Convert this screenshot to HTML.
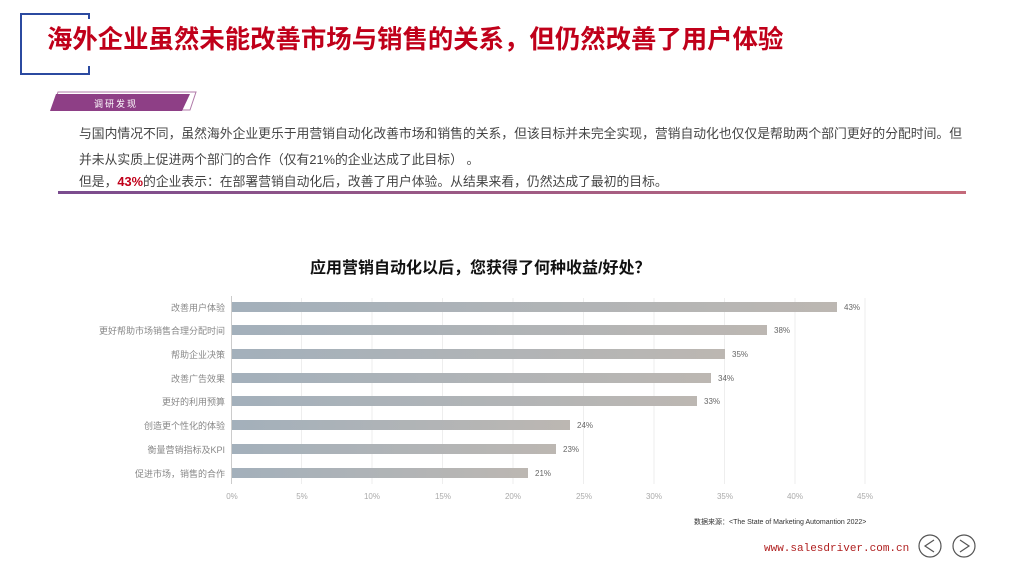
<!DOCTYPE html>
<html><head><meta charset="utf-8"><style>
body{margin:0;width:1024px;height:576px;background:#fff;position:relative;overflow:hidden;font-family:"Liberation Sans","Noto Sans CJK SC",sans-serif}
.a{position:absolute;white-space:nowrap}
.t{font-size:12.8px;color:#444;line-height:18px;left:79px}
</style></head><body>
<div class="a" style="left:20px;top:13px;width:68px;height:58px;border:2px solid #2b4aa0;border-right:none"></div>
<div class="a" style="left:88px;top:13px;width:2px;height:6px;background:#2b4aa0"></div>
<div class="a" style="left:88px;top:66px;width:2px;height:7px;background:#2b4aa0"></div>
<div class="a" style="left:47px;top:22px;font-size:25.4px;font-weight:bold;color:#c0001a;line-height:36px">海外企业虽然未能改善市场与销售的关系，但仍然改善了用户体验</div>
<svg class="a" style="left:50px;top:88px" width="150" height="26"><polygon points="8,4 146,4 140,22 2,22" fill="none" stroke="#b07aa8" stroke-width="1"/><polygon points="6,6 140,6 132,23 0,23" fill="#8e3f86"/><text x="44" y="19" font-size="9" fill="#fff" letter-spacing="2" font-family="Noto Sans CJK SC">调研发现</text></svg>
<div class="a t" style="top:125px">与国内情况不同，虽然海外企业更乐于用营销自动化改善市场和销售的关系，但该目标并未完全实现，营销自动化也仅仅是帮助两个部门更好的分配时间。但</div>
<div class="a t" style="top:151px">并未从实质上促进两个部门的合作（仅有21%的企业达成了此目标） 。</div>
<div class="a t" style="top:173px">但是，<b style="color:#c0001a">43%</b>的企业表示：在部署营销自动化后，改善了用户体验。从结果来看，仍然达成了最初的目标。</div>
<div class="a" style="left:58px;top:191px;width:908px;height:3px;background:linear-gradient(90deg,#7a4c8e,#c46a7a)"></div>
<div class="a" style="left:310px;top:254px;font-size:16px;font-weight:bold;color:#111">应用营销自动化以后，您获得了何种收益/好处？</div>
<svg class="a" style="left:0;top:0" width="1024" height="576" font-family="Liberation Sans,Noto Sans CJK SC,sans-serif">
<defs><linearGradient id="g" x1="0" x2="1"><stop offset="0" stop-color="#a3b0bb"/><stop offset="1" stop-color="#bcb7b2"/></linearGradient></defs>
<g stroke="#eee" stroke-width="1">
<line x1="301.5" y1="298" x2="301.5" y2="484"/><line x1="372" y1="298" x2="372" y2="484"/><line x1="442.5" y1="298" x2="442.5" y2="484"/><line x1="513" y1="298" x2="513" y2="484"/><line x1="583.5" y1="298" x2="583.5" y2="484"/><line x1="654" y1="298" x2="654" y2="484"/><line x1="724.5" y1="298" x2="724.5" y2="484"/><line x1="795" y1="298" x2="795" y2="484"/><line x1="865" y1="298" x2="865" y2="484"/>
</g>
<line x1="231.5" y1="296" x2="231.5" y2="484" stroke="#ccc"/>
<g fill="url(#g)">
<rect x="232" y="302" width="605" height="10"/><rect x="232" y="325" width="535" height="10"/><rect x="232" y="349" width="493" height="10"/><rect x="232" y="373" width="479" height="10"/><rect x="232" y="396" width="465" height="10"/><rect x="232" y="420" width="338" height="10"/><rect x="232" y="444" width="324" height="10"/><rect x="232" y="468" width="296" height="10"/>
</g>
<g font-size="8" fill="#666">
<text x="844" y="310">43%</text><text x="774" y="333">38%</text><text x="732" y="357">35%</text><text x="718" y="381">34%</text><text x="704" y="404">33%</text><text x="577" y="428">24%</text><text x="563" y="452">23%</text><text x="535" y="476">21%</text>
</g>
<g font-size="9" fill="#888" text-anchor="end">
<text x="225" y="311">改善用户体验</text><text x="225" y="334">更好帮助市场销售合理分配时间</text><text x="225" y="358">帮助企业决策</text><text x="225" y="382">改善广告效果</text><text x="225" y="405">更好的利用预算</text><text x="225" y="429">创造更个性化的体验</text><text x="225" y="453">衡量营销指标及KPI</text><text x="225" y="477">促进市场，销售的合作</text>
</g>
<g font-size="8" fill="#aaa" text-anchor="middle">
<text x="232" y="499">0%</text><text x="302" y="499">5%</text><text x="372" y="499">10%</text><text x="443" y="499">15%</text><text x="513" y="499">20%</text><text x="584" y="499">25%</text><text x="654" y="499">30%</text><text x="725" y="499">35%</text><text x="795" y="499">40%</text><text x="865" y="499">45%</text>
</g>
<text x="694" y="524" font-size="7" fill="#333">数据来源：&lt;The State of Marketing Automantion 2022&gt;</text>
<text x="764" y="551" font-size="11" fill="#b02020" font-family="Liberation Mono,monospace">www.salesdriver.com.cn</text>
<circle cx="930" cy="546" r="11" fill="none" stroke="#555" stroke-width="1.2"/><polyline points="934,540 925,546 934,552" fill="none" stroke="#555" stroke-width="1.2"/>
<circle cx="964" cy="546" r="11" fill="none" stroke="#555" stroke-width="1.2"/><polyline points="960,540 969,546 960,552" fill="none" stroke="#555" stroke-width="1.2"/>
</svg>
</body></html>
